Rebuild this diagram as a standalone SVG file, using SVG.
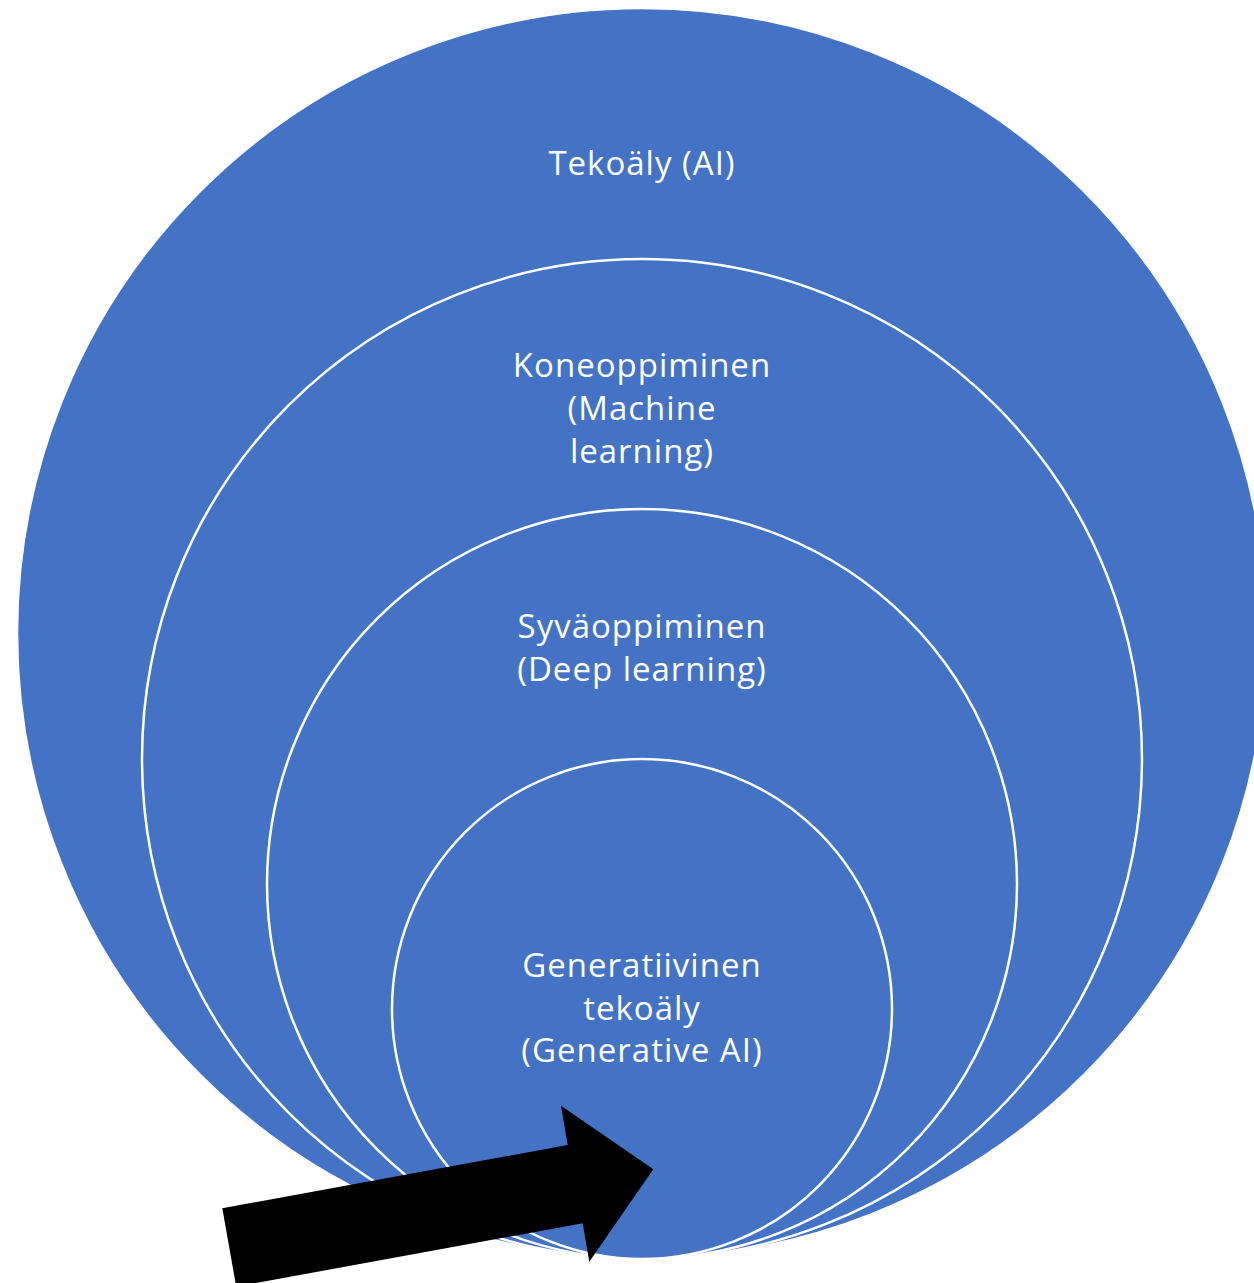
<svg xmlns="http://www.w3.org/2000/svg" width="1254" height="1283" viewBox="0 0 1254 1283">
  <style>
    .ring { fill: #4472C4; stroke: #FFFFFF; stroke-width: 2.5; }
    .lbl { fill: #FFFFFF; font-family: "Open Sans", "Noto Sans", "Liberation Sans", sans-serif; font-size: 33px; letter-spacing: 1px; text-anchor: middle; }
  </style>
  <rect x="0" y="0" width="1254" height="1283" fill="#FFFFFF"/>
  <g id="node-ai">
    <circle class="ring" cx="642" cy="633" r="625"/>
    <text class="lbl" x="642" y="175">Tekoäly (AI)</text>
  </g>
  <g id="node-ml">
    <circle class="ring" cx="642" cy="759" r="500"/>
    <text class="lbl" x="642" y="377">Koneoppiminen</text>
    <text class="lbl" x="642" y="420">(Machine</text>
    <text class="lbl" x="642" y="463">learning)</text>
  </g>
  <g id="node-dl">
    <circle class="ring" cx="642" cy="884" r="375"/>
    <text class="lbl" x="642" y="638">Syväoppiminen</text>
    <text class="lbl" x="642" y="681">(Deep learning)</text>
  </g>
  <g id="node-genai">
    <circle class="ring" cx="642" cy="1009" r="250"/>
    <text class="lbl" x="642" y="977">Generatiivinen</text>
    <text class="lbl" x="642" y="1020">tekoäly</text>
    <text class="lbl" x="642" y="1062">(Generative AI)</text>
  </g>
  <g id="connectors">
    <polygon fill="#000000" points="222.3,1208.3 567.7,1145 561,1105.7 653.3,1169.3 589.3,1261.7 582.7,1223.3 236.2,1286.6"/>
  </g>
</svg>
